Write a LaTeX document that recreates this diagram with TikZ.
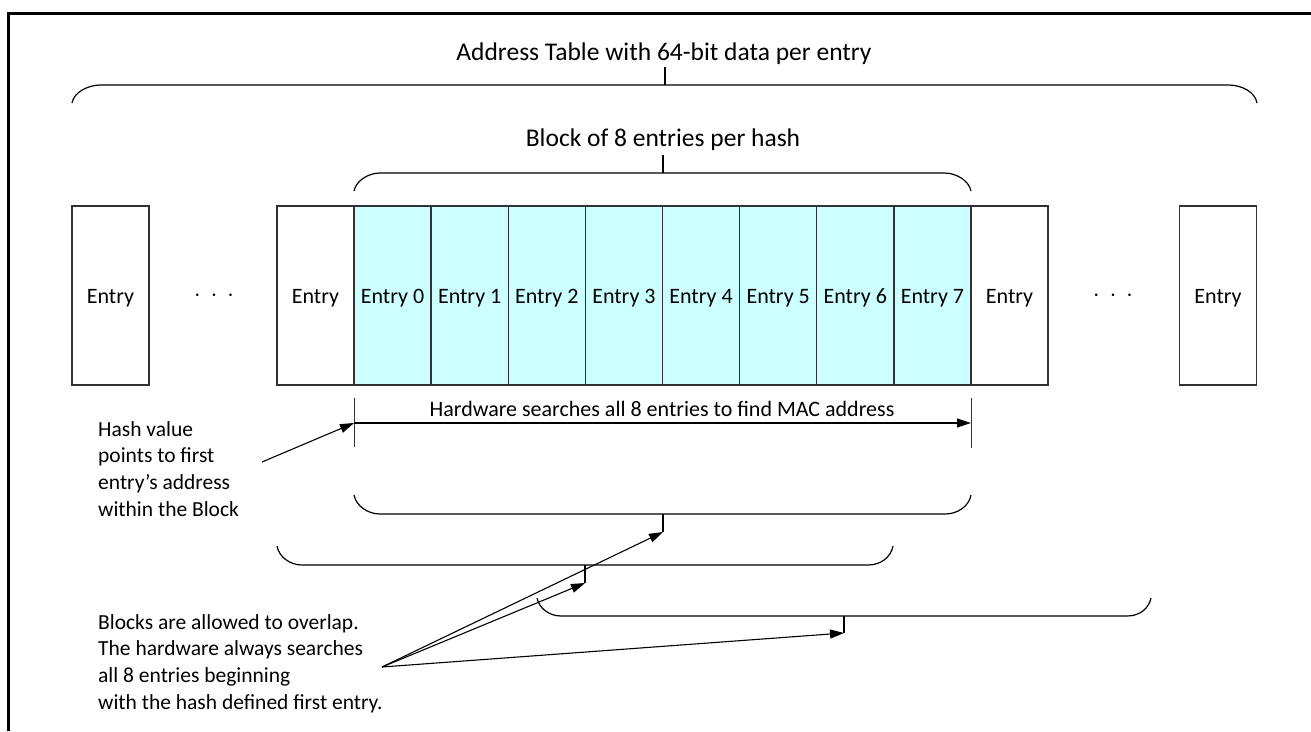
\documentclass[tikz,border=0pt]{standalone}
\usepackage{fontspec}
\setmainfont{Carlito}
\usetikzlibrary{arrows.meta}
\definecolor{entryfill}{RGB}{204,255,255}
\definecolor{boxline}{RGB}{50,50,50}
\begin{document}
\begin{tikzpicture}[x=1pt,y=-1pt,
  entrybox/.style={draw=boxline, line width=1.2pt, minimum width=77pt, minimum height=179pt,
    inner sep=0pt, text height=15pt, text depth=0pt, font=\fontsize{22}{26}\selectfont},
  blockentry/.style={entrybox, fill=entryfill},
  dotsnode/.style={inner sep=0pt, font=\fontsize{24}{26}\selectfont},
  brace/.style={draw=black, line width=1.2pt},
  arr/.style={draw=black, line width=1.1pt, -{Triangle[length=14pt,width=9pt]}},
  title/.style={inner sep=0pt, font=\fontsize{25.5}{30}\selectfont},
  note/.style={inner sep=0pt, align=left, anchor=north west, font=\fontsize{21.5}{26.7}\selectfont},
  label/.style={inner sep=0pt, font=\fontsize{22}{26}\selectfont}
]
\useasboundingbox (0,0) rectangle (1311,731);
\fill[white] (0,0) rectangle (1311,731);
% frame
\draw[line width=3pt] (8,731) -- (8,13) -- (1311,13);

% entries
\node[entrybox] (eL) at (110.5,295.5) {Entry};
\node[dotsnode] (dL) at (214,296) {$\cdot\,\cdot\,\cdot$};
\node[entrybox] (eA) at (315.5,295.5) {Entry};
\node[blockentry] (e0) at (392.56,295.5) {Entry 0};
\node[blockentry] (e1) at (469.69,295.5) {Entry 1};
\node[blockentry] (e2) at (546.81,295.5) {Entry 2};
\node[blockentry] (e3) at (623.94,295.5) {Entry 3};
\node[blockentry] (e4) at (701.06,295.5) {Entry 4};
\node[blockentry] (e5) at (778.19,295.5) {Entry 5};
\node[blockentry] (e6) at (855.31,295.5) {Entry 6};
\node[blockentry] (e7) at (932.44,295.5) {Entry 7};
\node[entrybox] (eB) at (1009.5,295.5) {Entry};
\node[dotsnode] (dR) at (1113,296) {$\cdot\,\cdot\,\cdot$};
\node[entrybox] (eR) at (1218,295.5) {Entry};

% top brace
\draw[brace] (72,103) .. controls (74,92) and (88,85) .. (101,85) -- (1228,85)
  .. controls (1242,85) and (1255,92) .. (1257,103);
\draw[brace] (665,85) -- (665,67);
\node[title] (ttl) at (664,54) {Address Table with 64-bit data per entry};

% block brace
\draw[brace] (354,191) .. controls (356,181) and (368,173) .. (380,173) -- (944,173)
  .. controls (957,173) and (969,181) .. (971,191);
\draw[brace] (663,173) -- (663,155);
\node[title] (blk) at (663,140) {Block of 8 entries per hash};

% hardware span
\coordinate (hwL) at (354,423);
\coordinate (hwR) at (971,423);
\draw[line width=1pt, draw=boxline] (354,398) -- (354,447);
\draw[line width=1pt, draw=boxline] (971,398) -- (971,448);
\draw[arr] (hwL) -- (hwR);
\node[label] (hw) at (662,409) {Hardware searches all 8 entries to find MAC address};

% hash note
\node[note] (hash) at (98,421) {Hash value\\points to first\\entry’s address\\within the Block};
\coordinate (hashS) at (262,462);
\draw[arr] (hashS) -- (hwL);

% lower braces
\draw[brace] (354,495) .. controls (356,506) and (368,514) .. (380,514) -- (945,514)
  .. controls (958,514) and (969,506) .. (971,495);
\coordinate (t1) at (663,532);
\draw[brace] (663,514) -- (t1);

\draw[brace] (277,546) .. controls (279,557) and (290,565) .. (302,565) -- (868,565)
  .. controls (881,565) and (891,557) .. (893,546);
\coordinate (t2) at (585,583);
\draw[brace] (585,565) -- (t2);

\draw[brace] (537,598) .. controls (539,608) and (549,616) .. (561,616) -- (1127,616)
  .. controls (1140,616) and (1149,608) .. (1151,598);
\coordinate (t3) at (844,633);
\draw[brace] (844,616) -- (t3);

% overlap note
\node[note] (ovl) at (98,614) {Blocks are allowed to overlap.\\The hardware always searches\\all 8 entries beginning\\with the hash defined first entry.};
\coordinate (conv) at (382,667);
\draw[arr] (conv) -- (t1);
\draw[arr] (conv) -- (t2);
\draw[arr] (conv) -- (t3);
\end{tikzpicture}
\end{document}
